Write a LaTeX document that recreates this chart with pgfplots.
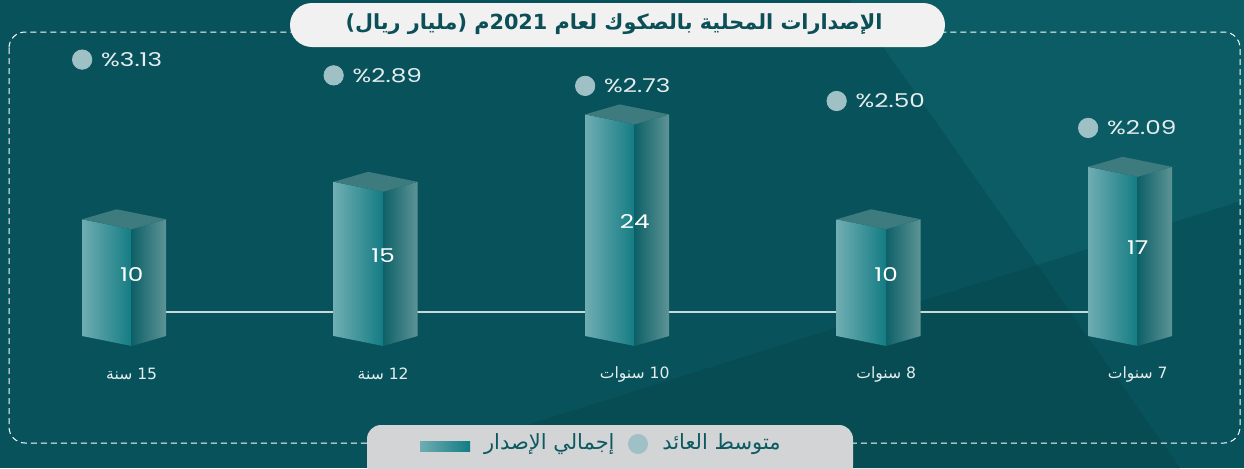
\documentclass[border=0pt]{standalone}
\usepackage{fontspec}
\usepackage{pgfplots}
\usepackage{pgfplotstable}
\pgfplotsset{compat=1.18}
\TeXXeTstate=1
\setmainfont{Poppins}
\newfontfamily\wide[FakeStretch=1.3]{Poppins}
\newfontfamily\ar[Script=Arabic]{DejaVu Sans}

\definecolor{bg}{HTML}{08525B}
\definecolor{bgLight}{HTML}{0B5C64}
\definecolor{bgDark}{HTML}{074B53}
\definecolor{titleBox}{HTML}{F1F1F1}
\definecolor{titleText}{HTML}{0B4F57}
\definecolor{legBox}{HTML}{D3D4D6}
\definecolor{legText}{HTML}{0C5A61}
\definecolor{dotC}{HTML}{9FC0C4}
\definecolor{labC}{HTML}{E4EDEE}
\definecolor{barL1}{HTML}{6FADB2}
\definecolor{barL2}{HTML}{137C83}
\definecolor{barR1}{HTML}{0E6168}
\definecolor{barR2}{HTML}{5E9496}
\definecolor{barT}{HTML}{3E7B7F}
\definecolor{lineC}{HTML}{C9D9DB}

% x = position, v = issuance (bn SAR), y = average yield (%)
\pgfplotstableread{
x v y
0 10 3.13
1 15 2.89
2 24 2.73
3 10 2.50
4 17 2.09
}\data

% one prism bar: left face, right face, top
\newcommand\prism[2]{%
  \pgfmathsetmacro\xa{#1-0.197}%
  \pgfmathsetmacro\xb{#1+0.137}%
  \pgfmathsetmacro\xc{#1-0.06}%
  \pgfmathsetmacro\ya{#2+1.335}%
  \pgfmathsetmacro\yb{#2+2.67}%
  \edef\tmp{%
    \noexpand\addplot[draw=none, left color=barL1, right color=barL2]
      coordinates {(\xa,\ya) (#1,#2) (#1,-5.58) (\xa,-4.245)} -- cycle;
    \noexpand\addplot[draw=none, left color=barR1, right color=barR2]
      coordinates {(#1,#2) (\xb,\ya) (\xb,-4.245) (#1,-5.58)} -- cycle;
    \noexpand\addplot[draw=none, fill=barT]
      coordinates {(\xa,\ya) (#1,#2) (\xb,\ya) (\xc,\yb)} -- cycle;
  }\tmp}

\begin{document}
\begin{tikzpicture}
\useasboundingbox (0,0) rectangle (622pt,234pt);
\begin{scope}[x=0.5pt, y=-0.5pt, shift={(0pt,234pt)}]
  \fill[bg] (0,0) rectangle (1244,468);
  \fill[bgLight] (850,0) -- (1244,0) -- (1244,200) -- (1037,265) -- cycle;
  \fill[bgDark] (1037,265) -- (1180,468) -- (390,468) -- cycle;
  \draw[white, line width=0.5pt, dash pattern=on 3pt off 2pt, rounded corners=8pt]
    (9,32) rectangle (1240,443);
  \fill[titleBox, rounded corners=11pt] (290,3) rectangle (945,47);
  \node[text=titleText, font=\ar\bfseries\fontsize{10.4}{12}\selectfont] at (614,24)
    {\beginR الإصدارات المحلية بالصكوك لعام \beginL2021\endL{}م (مليار ريال)\endR};
  \fill[legBox, rounded corners=7pt] (367,425) rectangle (853,480);
  \node[text=legText, font=\ar\fontsize{10.5}{13}\selectfont, anchor=east, inner sep=0pt]
    at (781,444) {\beginR متوسط العائد\endR};
  \fill[dotC] (638,444) circle (10);
  \node[text=legText, font=\ar\fontsize{10.5}{13}\selectfont, anchor=east, inner sep=0pt]
    at (615,444) {\beginR إجمالي الإصدار\endR};
  \shade[left color=barL1, right color=barL2] (420,441) rectangle (470,451);
\end{scope}

\begin{axis}[
  at={(0,0)}, anchor=south west,
  scale only axis, width=622pt, height=234pt,
  xmin=-0.5237, xmax=4.4227, ymin=-21.87, ymax=40.61,
  axis line style={draw=none}, tick style={draw=none},
  ytick=\empty, xtick={0,...,4},
  xticklabels={
    {\beginR\beginL15\endL{} سنة\endR},
    {\beginR\beginL12\endL{} سنة\endR},
    {\beginR\beginL10\endL{} سنوات\endR},
    {\beginR\beginL8\endL{} سنوات\endR},
    {\beginR\beginL7\endL{} سنوات\endR}},
  xticklabel style={anchor=center, yshift=47pt, text=labC,
    font=\ar\fontsize{7.8}{9}\selectfont},
  /pgf/number format/assume math mode=true,
  clip=false]
  \addplot[draw=lineC, line width=0.7pt] coordinates {(0,-1.04) (4,-1.04)};
  \pgfplotsinvokeforeach{0,...,4}{%
    \pgfplotstablegetelem{#1}{v}\of\data
    \prism{#1}{\pgfplotsretval}}
  \addplot[draw=none, mark=none, nodes near coords, point meta=explicit,
    every node near coord/.append style={anchor=center, text=white,
      font=\wide\fontsize{9.5}{11}\selectfont}]
    table[x=x, y expr=\thisrow{v}/2-1, meta=v] {\data};
\end{axis}

\begin{axis}[
  at={(0,0)}, anchor=south west,
  scale only axis, width=622pt, height=234pt,
  xmin=-0.5237, xmax=4.4227, ymin=-3.086, ymax=4.037,
  hide axis, clip=false,
  /pgf/number format/assume math mode=true]
  \addplot[only marks, mark=*, mark size=4.85pt, color=dotC, point meta=y,
    nodes near coords={\%\pgfmathprintnumber[fixed,fixed zerofill,precision=2]{\pgfplotspointmeta}},
    every node near coord/.append style={anchor=west, xshift=6pt, text=labC,
      font=\wide\fontsize{9.5}{11}\selectfont}]
    table[x expr=\thisrow{x}-0.197, y=y] {\data};
\end{axis}
\end{tikzpicture}
\end{document}
